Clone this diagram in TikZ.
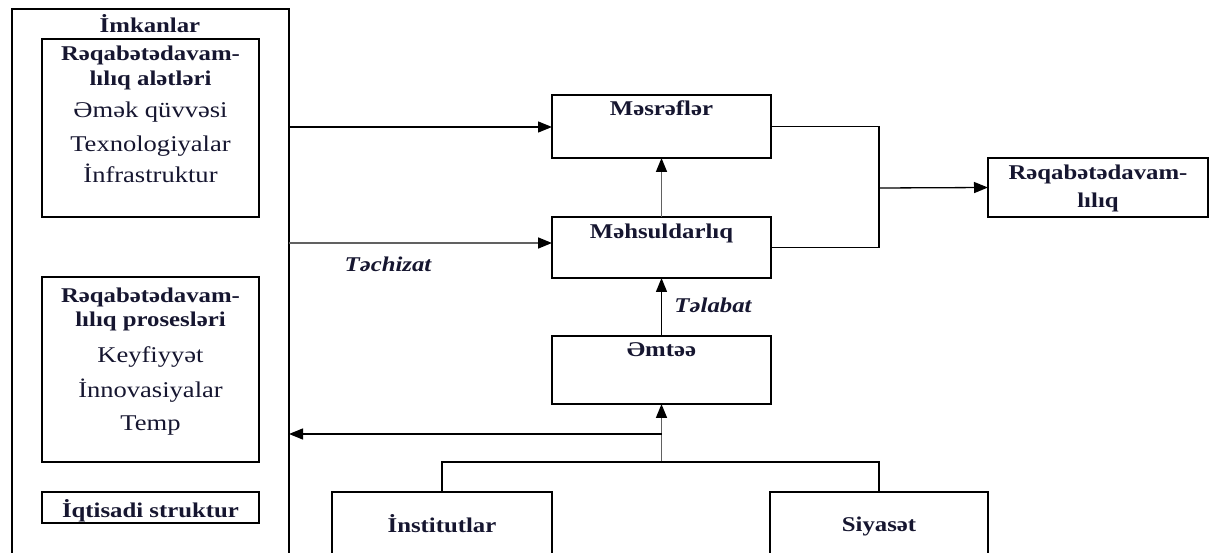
\documentclass[tikz,border=0pt]{standalone}
\usepackage{fontspec}
\setmainfont[FakeStretch=1.18]{Liberation Serif}
\usetikzlibrary{arrows.meta}
\definecolor{ink}{RGB}{22,22,48}
\begin{document}
\begin{tikzpicture}[x=1pt,y=-1pt,
  box/.style={draw=black, line width=1.3pt, inner sep=0pt, outer sep=0pt, anchor=north west},
  hd/.style={font=\fontsize{21}{21}\selectfont\bfseries, text=ink, anchor=base, inner sep=0pt},
  tx/.style={font=\fontsize{22.5}{22.5}\selectfont, text=ink, anchor=base, inner sep=0pt},
  it/.style={font=\fontsize{21}{21}\selectfont\bfseries\itshape, text=ink, anchor=base, inner sep=0pt},
  line/.style={draw=black, line width=1.3pt},
  gline/.style={draw=black!62, line width=1.6pt},
  conn/.style={line, -{Triangle[length=14pt,width=11pt]}},
  gconn/.style={gline, -{Triangle[length=14pt,width=11pt,color=black]}}]
\useasboundingbox (0,0) rectangle (1211,553);
\clip (0,0) rectangle (1211,553);
% left column
\node[box, minimum width=277pt, minimum height=600pt] (outer) at (12,9) {};
\node[hd] (imk) at (150,33) {İmkanlar};
\node[box, minimum width=217pt, minimum height=178pt] (in1) at (42,39) {};
\node[hd] (a1) at (150.5,61) {Rəqabətədavam-};
\node[hd] (a2) at (150.5,86) {lılıq alətləri};
\node[tx] (a3) at (150.5,118) {Əmək qüvvəsi};
\node[tx] (a4) at (150.5,152) {Texnologiyalar};
\node[tx] (a5) at (150.5,183) {İnfrastruktur};
\node[box, minimum width=217pt, minimum height=185pt] (in2) at (42,277) {};
\node[hd] (b1) at (150.5,303) {Rəqabətədavam-};
\node[hd] (b2) at (150.5,327) {lılıq prosesləri};
\node[tx] (b3) at (150.5,363) {Keyfiyyət};
\node[tx] (b4) at (150.5,398) {İnnovasiyalar};
\node[tx] (b5) at (150.5,431) {Temp};
\node[box, minimum width=217pt, minimum height=31pt] (in3) at (42,492) {};
\node[hd] (c1) at (150.5,517) {İqtisadi struktur};
% centre column
\node[box, minimum width=219pt, minimum height=63pt] (mes) at (552,95) {};
\node[hd] (mest) at (661.5,116) {Məsrəflər};
\node[box, minimum width=219pt, minimum height=61pt] (meh) at (552,217) {};
\node[hd] (meht) at (661.5,239) {Məhsuldarlıq};
\node[box, minimum width=219pt, minimum height=68pt] (emt) at (552,336) {};
\node[hd] (emtt) at (661.5,357) {Əmtəə};
\node[box, minimum width=220pt, minimum height=100pt] (inst) at (332,492) {};
\node[hd] (instt) at (442,532) {İnstitutlar};
\node[box, minimum width=218pt, minimum height=100pt] (siy) at (770,492) {};
\node[hd] (siyt) at (879,531) {Siyasət};
\node[box, minimum width=220pt, minimum height=59pt] (req) at (988,158) {};
\node[hd] (r1) at (1098,180) {Rəqabətədavam-};
\node[hd] (r2) at (1098,208) {lılıq};
% labels
\node[it] (tech) at (388,272) {Təchizat};
\node[it] (tal) at (713,313) {Təlabat};
% connectors
\coordinate (mesin) at (552,127);
\coordinate (mehin) at (552,243);
\draw[conn] (outer.east |- mesin) -- (mesin);
\draw[gconn] (outer.east |- mehin) -- (mehin);
\draw[gconn] (meh.north) -- (mes.south);
\draw[conn] (emt.north) -- (meh.south);
\coordinate (j) at (879,188);
\draw[line] (mes.east) -- (j |- mes.east) -- (j |- meh.east) -- (meh.east);
\draw[conn] (j) -- (req.west);
\coordinate (b) at (661.5,462);
\coordinate (c) at (661.5,434);
\draw[gconn] (b) -- (emt.south);
\draw[conn] (c) -- (outer.east |- c);
\draw[line] (inst.north) |- (b) -| (siy.north);
\end{tikzpicture}
\end{document}
